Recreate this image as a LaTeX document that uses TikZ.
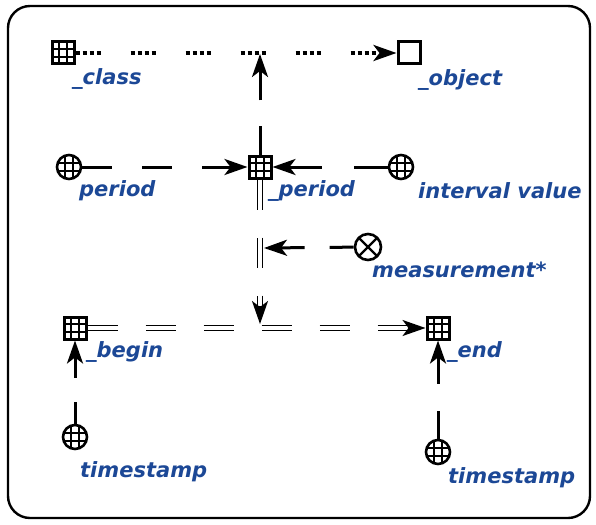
\documentclass[tikz,border=0pt]{standalone}
\usepackage{fontspec}
\usepackage{tikz}
\usetikzlibrary{arrows.meta,positioning}
\newfontfamily\lblfont{DejaVu Sans}
\definecolor{LabelBlue}{RGB}{28, 72, 150}

\begin{document}
\begin{tikzpicture}[
    x=1pt, y=-1pt,
    gridlines/.style={path picture={\draw[line width=1.7pt]
        ([xshift=-#1]path picture bounding box.north) -- ([xshift=-#1]path picture bounding box.south)
        ([xshift=#1]path picture bounding box.north) -- ([xshift=#1]path picture bounding box.south)
        ([yshift=-#1]path picture bounding box.west) -- ([yshift=-#1]path picture bounding box.east)
        ([yshift=#1]path picture bounding box.west) -- ([yshift=#1]path picture bounding box.east);}},
    gridbox/.style={rectangle, draw, line width=3pt, fill=white, minimum size=22pt, inner sep=0pt, gridlines=3.7pt},
    globe/.style={circle, draw, line width=2.6pt, fill=white, minimum size=24pt, inner sep=0pt, gridlines=4pt},
    openbox/.style={rectangle, draw, line width=3pt, fill=white, minimum size=22pt, inner sep=0pt},
    crossnode/.style={circle, draw, line width=2.6pt, fill=white, minimum size=26pt, inner sep=0pt,
      path picture={\draw[line width=2.4pt] (path picture bounding box.north west) -- (path picture bounding box.south east)
        (path picture bounding box.north east) -- (path picture bounding box.south west);}},
    lbl/.style={font={\lblfont\fontsize{21}{25}\selectfont\bfseries\itshape}, text=LabelBlue, anchor=west, inner sep=0pt},
    tip/.style={-{Stealth[length=23pt,width=16pt,inset=6pt]}},
    link/.style={tip, line width=3pt},
    dbl/.style={double, line width=1.5pt, double distance=3.5pt, shorten >=16pt},
    dblhead/.style={tip, line width=2pt},
    dotlink/.style={tip, line width=3.6pt, dash pattern=on 4pt off 3pt on 4pt off 3pt on 4pt off 3pt on 4pt off 30pt}
]
\useasboundingbox (0,0) rectangle (596,524);

% Frame
\draw[line width=2.4pt, rounded corners=22pt] (8,6) rectangle (590,518);

% Classes
\node[gridbox] (class) at (63,53) {};
\node[openbox] (object) at (409,53) {};
\node[gridbox] (period) at (260,167) {};
\node[gridbox] (begin) at (75,328) {};
\node[gridbox] (finish) at (438,328) {};

% Attributes
\node[globe] (perval) at (69,167) {};
\node[globe] (interval) at (401,167) {};
\node[crossnode] (measure) at (368,247) {};
\node[globe] (stampa) at (75,437) {};
\node[globe] (stampb) at (438,452) {};

% Points on the lines
\coordinate (top) at (260,54);
\coordinate (mid) at (264,248);
\coordinate (low) at (260,324);
\coordinate[above=18pt of low] (lowtail);
\coordinate[left=18pt of finish.west] (endtail);

% Labels
\node[lbl] (lclass) at (72,79) {\_class};
\node[lbl] (lobject) at (418,80) {\_object};
\node[lbl] (lperval) at (79,191) {period};
\node[lbl] (lperiod) at (268,191) {\_period};
\node[lbl] (linterval) at (418,191) {interval value};
\node[lbl] (lmeasure) at (372,270) {measurement*};
\node[lbl] (lbegin) at (86,352) {\_begin};
\node[lbl] (lfinish) at (447,352) {\_end};
\node[lbl] (lstampa) at (80,472) {timestamp};
\node[lbl] (lstampb) at (448,478) {timestamp};

% Arrows
\draw[dotlink] (class) -- (object);
\draw[link, dash pattern=on 29pt off 25pt] (period) -- (top);
\draw[link, dash pattern=on 30pt off 30pt] (perval) -- (period);
\draw[link, dash pattern=on 34pt off 32pt] (interval) -- (period);
\draw[dbl, dash pattern=on 30pt off 28pt] (period) -- (low);
\draw[dblhead] (lowtail) -- (low);
\draw[link, dash pattern=on 24pt off 25pt] (measure) -- (mid);
\draw[dbl, dash pattern=on 30pt off 28pt] (begin) -- (finish);
\draw[dblhead] (endtail) -- (finish);
\draw[link, dash pattern=on 22pt off 24pt] (stampa) -- (begin);
\draw[link, dash pattern=on 28pt off 27pt] (stampb) -- (finish);

\end{tikzpicture}
\end{document}
